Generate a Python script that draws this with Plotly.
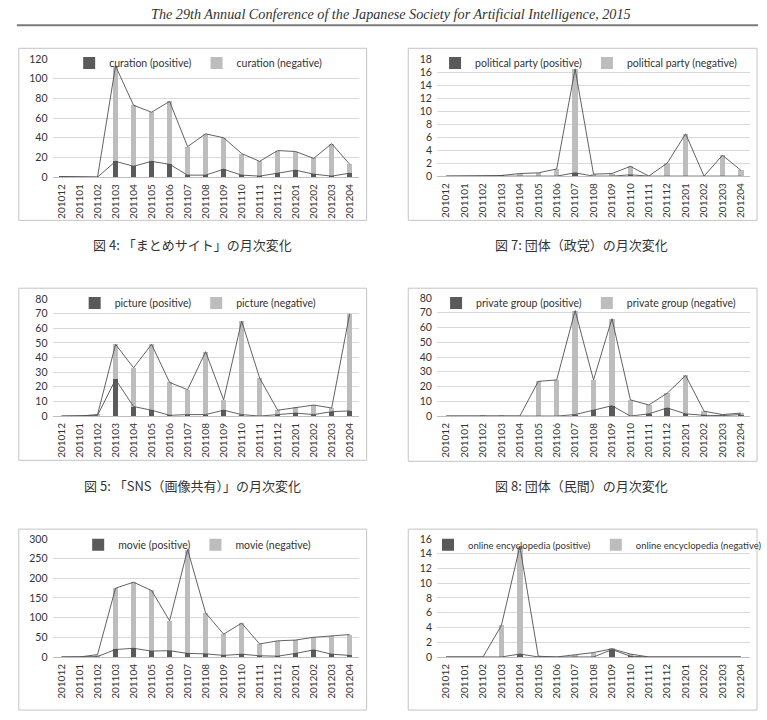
import plotly.graph_objects as go

W, H = 767, 720

months = ["201012", "201101", "201102", "201103", "201104", "201105", "201106",
          "201107", "201108", "201109", "201110", "201111", "201112", "201201",
          "201202", "201203", "201204"]

curation_pos = [0.5, 0, 0, 16, 11, 16, 13, 2, 2, 8, 2, 1, 4, 7, 3, 1, 4]
curation_neg = [0, 0, 0, 97, 62, 50, 64, 29, 42, 32, 22, 15, 23, 19, 16, 33, 9]

party_pos = [0, 0, 0, 0.1, 0, 0, 0, 0.5, 0, 0, 0.2, 0, 0, 0, 0, 0, 0]
party_neg = [0, 0, 0, 0, 0.4, 0.5, 1.1, 16.0, 0.3, 0.4, 1.3, 0, 2.0, 6.5, 0, 3.2, 0.9]

picture_pos = [0, 0, 0.5, 25, 6.5, 4, 0.5, 1, 1, 4, 1, 0, 1, 2, 1, 3, 3.5]
picture_neg = [0, 0, 0.5, 24, 26.5, 45, 22.5, 17, 43, 7, 64, 26, 3, 4, 6.5, 2.5, 66.5]

private_pos = [0, 0, 0, 0, 0, 0, 0, 1, 3.8, 7, 0, 1.5, 5.5, 1.5, 0.5, 0.3, 1]
private_neg = [0, 0, 0.2, 0.2, 0, 23.5, 24.5, 70.5, 20.7, 59, 11, 6, 10, 26, 2.8, 0.7, 1]

movie_pos = [0, 0, 1, 19, 22, 15, 16, 9, 8, 4, 7, 3, 2, 9, 18, 7, 4]
movie_neg = [0, 0, 5, 156, 168, 154, 76, 264, 104, 54, 79, 30, 39, 34, 32, 46, 53]

wiki_pos = [0, 0, 0, 0, 0.4, 0, 0, 0, 0, 1.0, 0.1, 0, 0, 0, 0, 0, 0]
wiki_neg = [0, 0, 0, 4.3, 14.6, 0.1, 0, 0.3, 0.6, 0.1, 0.3, 0, 0, 0, 0, 0, 0]

series_names = ["curation", "political party", "picture", "private group", "movie",
                "online encyclopedia"]
y_ranges = [(0, 120, 20), (0, 18, 2), (0, 80, 10), (0, 80, 10), (0, 300, 50), (0, 16, 2)]
captions = ["図 4: 「まとめサイト」の月次変化", "図 7: 団体（政党）の月次変化",
            "図 5: 「SNS（画像共有）」の月次変化", "図 8: 団体（民間）の月次変化"]
header = "The 29th Annual Conference of the Japanese Society for Artificial Intelligence, 2015"

data = [(curation_pos, curation_neg), (party_pos, party_neg),
        (picture_pos, picture_neg), (private_pos, private_neg),
        (movie_pos, movie_neg), (wiki_pos, wiki_neg)]


def fx(p):
    return p / W


def fy(p):
    return 1 - p / H


# layout geometry (pixels)
xdom = {0: (53, 362), 1: (441, 757)}
ydom = [(54, 174), (54, 173), (298, 417), (297, 417), (542, 662), (542, 662)]
frame_x = {0: (19, 370), 1: (412, 764)}
frame_y = [(43, 218), (43, 218), (287, 462), (287, 463), (532, 716), (532, 716)]
legend_pos = [(200, 58), (594, 58), (200, 302), (594, 302), (199, 548), (603, 548)]
legend_size = [10.5, 10.5, 10.5, 10.5, 10.5, 9.5]
caption_pos = [(194, 243), (587, 243), (194, 488), (587, 488)]

POS_C = "#5a5a5a"
NEG_C = "#bdbdbd"
LINE_C = "#505050"
GRID_C = "#d9d9d9"
FONT = "Lato"

fig = go.Figure()
layout = {}
shapes = []

for i, (pos, neg) in enumerate(data):
    col = i % 2
    n = "" if i == 0 else str(i + 1)
    xa, ya = "x" + n, "y" + n
    lg = "legend" + n
    name = series_names[i]
    total = [p + q for p, q in zip(pos, neg)]
    fig.add_trace(go.Bar(x=months, y=pos, name=name + " (positive)", marker_color=POS_C,
                         marker_line_width=0, xaxis=xa, yaxis=ya, legend=lg))
    fig.add_trace(go.Bar(x=months, y=neg, name=name + " (negative)", marker_color=NEG_C,
                         marker_line_width=0, xaxis=xa, yaxis=ya, legend=lg))
    fig.add_trace(go.Scatter(x=months, y=pos, mode="lines", line=dict(color=LINE_C, width=0.9),
                             showlegend=False, xaxis=xa, yaxis=ya, hoverinfo="skip"))
    fig.add_trace(go.Scatter(x=months, y=total, mode="lines", line=dict(color=LINE_C, width=0.9),
                             showlegend=False, xaxis=xa, yaxis=ya, hoverinfo="skip"))
    y0, y1, dy = y_ranges[i]
    layout["xaxis" + n] = dict(domain=[fx(xdom[col][0]), fx(xdom[col][1])], anchor=ya,
                               type="category", tickangle=-90, showgrid=False,
                               showline=True, linecolor="#bfbfbf", linewidth=1,
                               ticks="", tickfont=dict(family=FONT, size=10, color="#333"),
                               ticklabelstandoff=2, fixedrange=True)
    layout["yaxis" + n] = dict(domain=[fy(ydom[i][1]), fy(ydom[i][0])], anchor=xa,
                               range=[y0, y1], dtick=dy, tick0=0, showgrid=True,
                               gridcolor=GRID_C, gridwidth=1, zeroline=False,
                               showline=False, ticks="", ticklabelstandoff=4,
                               tickfont=dict(family=FONT, size=10.5, color="#333"),
                               fixedrange=True)
    lx, ly = legend_pos[i]
    layout[lg] = dict(orientation="h", x=fx(lx), y=fy(ly), xanchor="center", yanchor="middle",
                      bgcolor="rgba(0,0,0,0)",
                      font=dict(family=FONT, size=legend_size[i], color="#333"),
                      itemwidth=30, traceorder="normal", tracegroupgap=0)
    fx0, fx1 = frame_x[col]
    fy0, fy1 = frame_y[i]
    shapes.append(dict(type="rect", xref="paper", yref="paper", x0=fx(fx0), x1=fx(fx1),
                       y0=fy(fy1), y1=fy(fy0), line=dict(color="#c4c4c4", width=1),
                       fillcolor="rgba(0,0,0,0)"))

shapes.append(dict(type="line", xref="paper", yref="paper", x0=fx(17), x1=fx(765),
                   y0=fy(19.5), y1=fy(19.5), line=dict(color="#7a7a7a", width=2)))

annotations = [dict(text="<i>" + header + "</i>", x=fx(395), y=fy(8), xref="paper",
                    yref="paper", showarrow=False, xanchor="center", yanchor="middle",
                    font=dict(family="Liberation Serif", size=14.2, color="#333"))]
for (cx, cy), txt in zip(caption_pos, captions):
    annotations.append(dict(text=txt, x=fx(cx), y=fy(cy), xref="paper", yref="paper",
                            showarrow=False, xanchor="center", yanchor="middle",
                            font=dict(family="Noto Sans CJK JP", size=13, color="#333")))

fig.update_layout(**layout)
fig.update_layout(width=W, height=H, margin=dict(l=0, r=0, t=0, b=0),
                  paper_bgcolor="white", plot_bgcolor="white",
                  barmode="stack", bargap=0.7, shapes=shapes, annotations=annotations)

fig.write_html("out.html", config={"displayModeBar": False})
